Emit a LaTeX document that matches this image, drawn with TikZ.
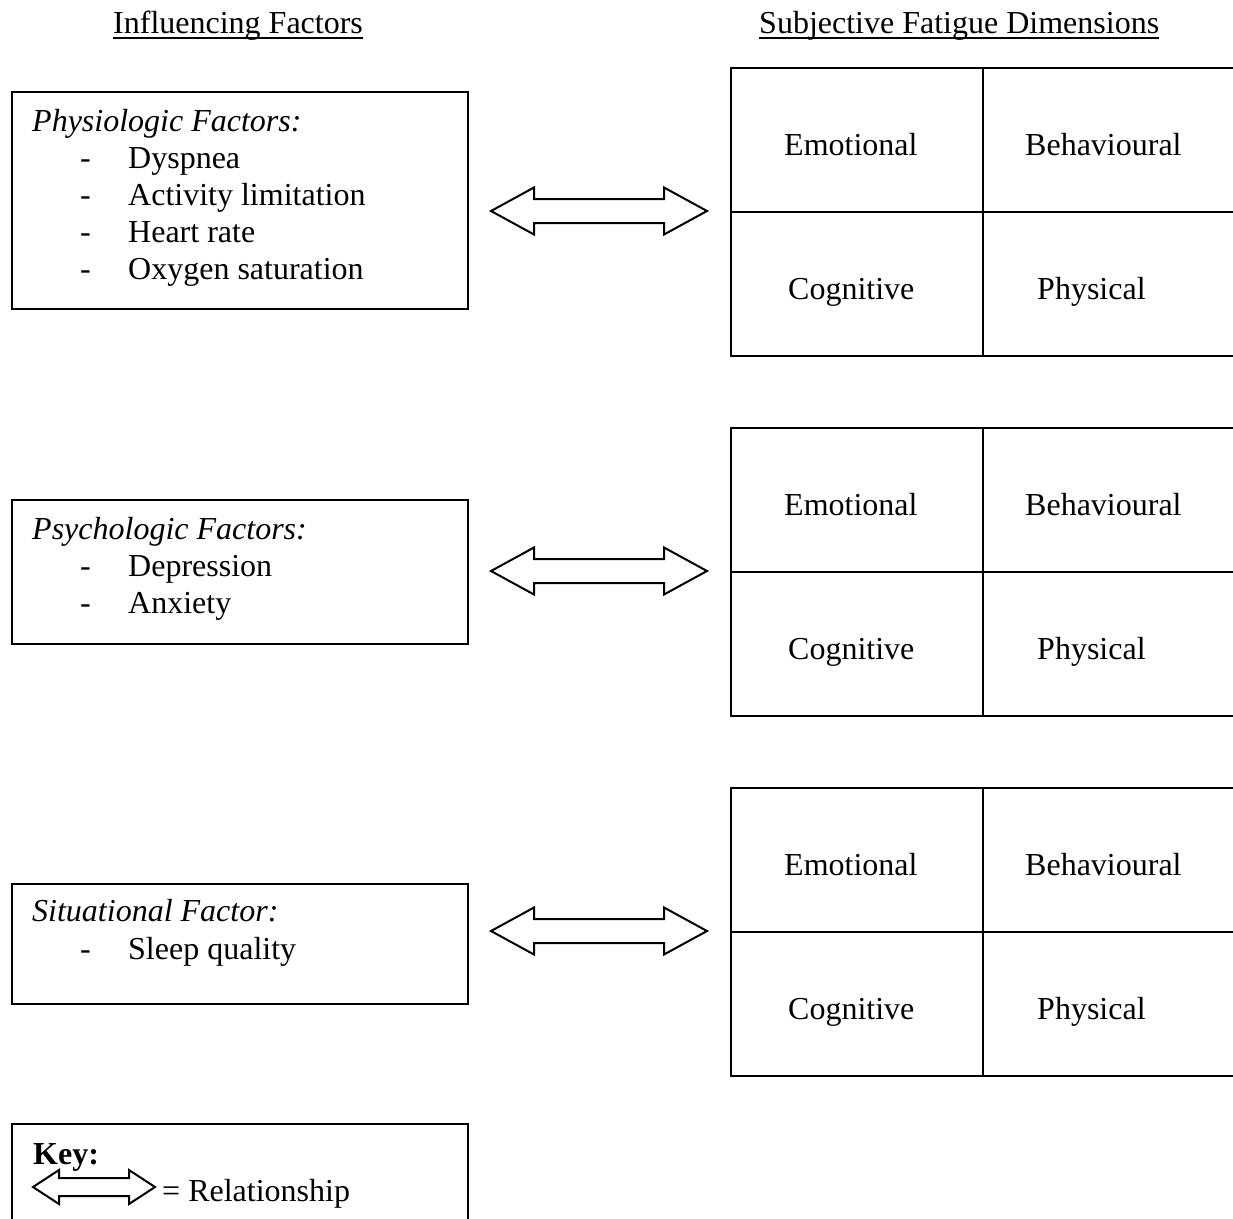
\documentclass[tikz,border=0pt]{standalone}
\usepackage{fontspec}
\setmainfont{Liberation Serif}
\newcommand\blockarr[7]{%
  \coordinate (#1) at (#2,#3);
  \begin{scope}[shift={(#1)}]
    \draw[arrowshape] (-#4,0) -- (-#4+#7,-#6) -- (-#4+#7,-#5) -- (#4-#7,-#5) -- (#4-#7,-#6) -- (#4,0)
      -- (#4-#7,#6) -- (#4-#7,#5) -- (-#4+#7,#5) -- (-#4+#7,#6) -- cycle;
  \end{scope}}
\newcommand\fatiguegrid[2]{%
  \draw[gridline] (1240,#2) -- (731,#2) -- (731,#2+288) -- (1240,#2+288);
  \draw[gridline] (731,#2+144) -- (1240,#2+144);
  \draw[gridline] (983,#2) -- (983,#2+288);
  \node[lbl] (#1emo) at (784,#2+87) {Emotional};
  \node[lbl] (#1beh) at (1025,#2+87) {Behavioural};
  \node[lbl] (#1cog) at (788,#2+231) {Cognitive};
  \node[lbl] (#1phy) at (1037,#2+231) {Physical};}
\begin{document}
\begin{tikzpicture}[x=1pt,y=-1pt,
  every node/.style={inner sep=0pt, font=\fontsize{32}{37}\selectfont},
  lbl/.style={anchor=base west},
  frame/.style={draw, line width=2pt, anchor=north west, minimum width=456pt},
  gridline/.style={line width=2pt, line join=miter},
  arrowshape/.style={draw, line width=2pt, fill=white, line join=miter},
  uline/.style={line width=1.5pt}]
\useasboundingbox (0,0) rectangle (1233,1218);
\clip (0,0) rectangle (1233,1218);

% headers
\node[lbl] (hl) at (113,33) {Influencing Factors};
\draw[uline] ([yshift=-5pt]hl.base west) -- ([yshift=-5pt]hl.base east);
\node[lbl] (hr) at (759,33) {Subjective Fatigue Dimensions};
\draw[uline] ([yshift=-5pt]hr.base west) -- ([yshift=-5pt]hr.base east);

% factor boxes
\node[frame, minimum height=217pt] (phys) at (11,91) {};
\node[lbl] (physT) at (32,131) {\itshape Physiologic Factors:};
\node[lbl] (pd1) at (80,168) {-}; \node[lbl] (p1) at (128,168) {Dyspnea};
\node[lbl] (pd2) at (80,205) {-}; \node[lbl] (p2) at (128,205) {Activity limitation};
\node[lbl] (pd3) at (80,242) {-}; \node[lbl] (p3) at (128,242) {Heart rate};
\node[lbl] (pd4) at (80,279) {-}; \node[lbl] (p4) at (128,279) {Oxygen saturation};

\node[frame, minimum height=144pt] (psych) at (11,499) {};
\node[lbl] (psychT) at (32,539) {\itshape Psychologic Factors:};
\node[lbl] (qd1) at (80,576) {-}; \node[lbl] (q1) at (128,576) {Depression};
\node[lbl] (qd2) at (80,613) {-}; \node[lbl] (q2) at (128,613) {Anxiety};

\node[frame, minimum height=120pt] (sit) at (11,883) {};
\node[lbl] (sitT) at (32,921) {\itshape Situational Factor:};
\node[lbl] (sd1) at (80,959) {-}; \node[lbl] (s1) at (128,959) {Sleep quality};

% key
\node[frame, minimum height=200pt] (key) at (11,1123) {};
\node[lbl] (keyT) at (33,1164) {\bfseries Key:};
\blockarr{keyarr}{94}{1187}{61}{9}{17}{26}
\node[lbl] (keyR) at (162,1201) {= Relationship};

% fatigue grids
\fatiguegrid{g1}{68}
\fatiguegrid{g2}{428}
\fatiguegrid{g3}{788}

% relationship arrows
\blockarr{a1}{599}{211}{108}{12}{23.5}{43}
\blockarr{a2}{599}{571}{108}{12}{23.5}{43}
\blockarr{a3}{599}{931}{108}{12}{23.5}{43}
\end{tikzpicture}
\end{document}
